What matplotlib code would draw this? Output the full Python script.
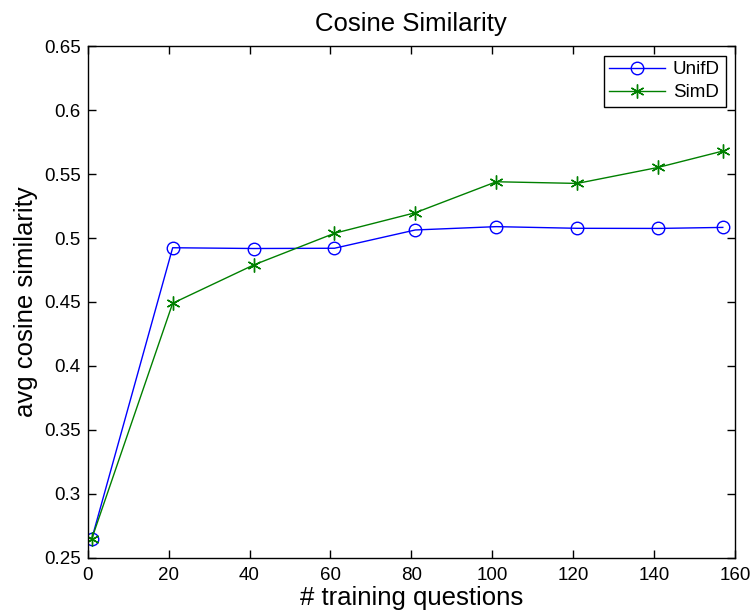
#!/usr/bin/env python3
import matplotlib
matplotlib.use("Agg")
import matplotlib.pyplot as plt

plt.rcParams['font.family'] = ['Liberation Sans', 'DejaVu Sans']

questions = [1, 21, 41, 61, 81, 101, 121, 141, 157]
unifd = [0.2648, 0.4924, 0.4918, 0.4920, 0.5063, 0.5089, 0.5076, 0.5075, 0.5083]
simd = [0.2648, 0.4490, 0.4789, 0.5037, 0.5198, 0.5440, 0.5427, 0.5552, 0.5680]

fig = plt.figure(figsize=(7.53, 6.16), dpi=100)
ax = fig.add_axes([0.1165, 0.0946, 0.8595, 0.8304])

ax.plot(questions, unifd, color=(0, 0, 1), marker='o', markersize=9, markerfacecolor='none',
        markeredgewidth=1.0, linewidth=1.0, label='UnifD')
ax.plot(questions, simd, color=(0, 0.5, 0), marker=(6, 2, 0), markersize=10,
        markeredgewidth=1.0, linewidth=1.0, label='SimD')

ax.set_xlim(0, 160)
ax.set_ylim(0.25, 0.65)
ax.set_xticks(range(0, 161, 20))
ax.set_yticks([0.25, 0.3, 0.35, 0.4, 0.45, 0.5, 0.55, 0.6, 0.65])
ax.set_yticklabels(['0.25', '0.3', '0.35', '0.4', '0.45', '0.5', '0.55', '0.6', '0.65'])
ax.tick_params(direction='in', top=True, right=True, labelsize=13.5, length=6, width=1)
ax.tick_params(axis='x', pad=7)
ax.tick_params(axis='y', pad=5)
for s in ax.spines.values():
    s.set_linewidth(1.0)

ax.set_xlabel('# training questions', fontsize=18.5, labelpad=1)
ax.set_ylabel('avg cosine similarity', fontsize=18.5, labelpad=4)
ax.set_title('Cosine Similarity', fontsize=18.5, pad=11)

leg = ax.legend(loc='upper right', fontsize=13.5, fancybox=False, framealpha=1,
                edgecolor='black', borderaxespad=0.5, handlelength=3.0,
                borderpad=0.3, labelspacing=0.3, handletextpad=0.4)
leg.get_frame().set_linewidth(1.0)

fig.savefig('out.png', dpi=100)
